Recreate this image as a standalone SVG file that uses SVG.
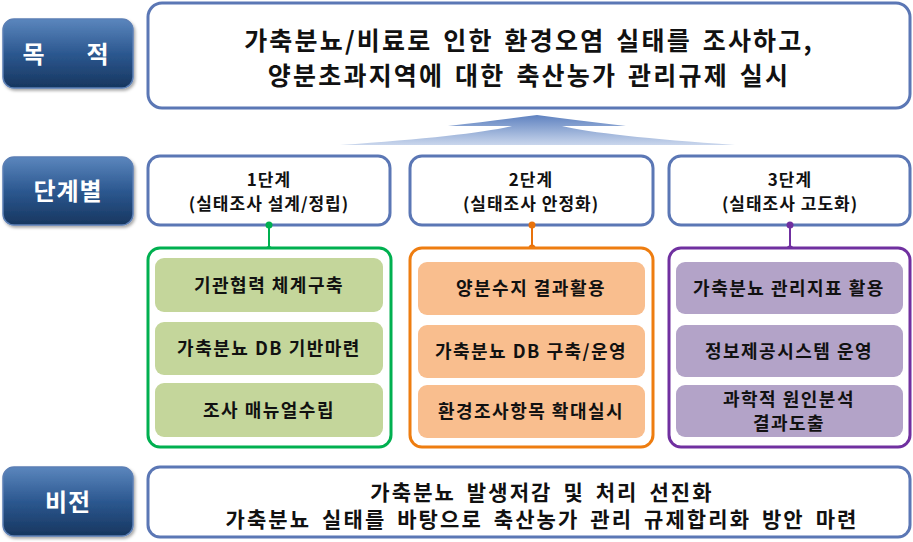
<svg xmlns="http://www.w3.org/2000/svg" width="913" height="542" viewBox="0 0 913 542">
<defs>
<linearGradient id="lbl" x1="0" y1="0" x2="0" y2="1">
<stop offset="0" stop-color="#5b86bd"/>
<stop offset="0.5" stop-color="#2c5890"/>
<stop offset="1" stop-color="#17365f"/>
</linearGradient>
<linearGradient id="arr" x1="0" y1="0" x2="0" y2="1">
<stop offset="0" stop-color="#5f82c0"/>
<stop offset="1" stop-color="#c9d6ec"/>
</linearGradient>
<filter id="sh" x="-10%" y="-10%" width="125%" height="130%">
<feDropShadow dx="1.5" dy="2" stdDeviation="1.5" flood-color="#000" flood-opacity="0.35"/>
</filter>
</defs>
<style>
text{font-family:"Noto Sans CJK KR","Noto Sans",sans-serif;font-weight:bold;text-anchor:middle;fill:#111}
.lbl rect{fill:url(#lbl);stroke:#5b7fb5;stroke-width:1.5}
.lbl text{fill:#fff;font-size:24px;letter-spacing:1px}
.frame{fill:#fff;stroke:#5b77b5;stroke-width:3}
.g{fill:#c4d69b}.o{fill:#f9be8e}.p{fill:#b3a3c8}
.it{font-size:18px;letter-spacing:1.5px}
.st{font-size:17px;letter-spacing:1px}
.top{font-size:25px;letter-spacing:2.2px;word-spacing:3px}
.bot{font-size:21px;letter-spacing:2.1px;word-spacing:4px}
</style>
<rect width="913" height="542" fill="#fff"/>
<g id="lbl-purpose" class="lbl"><rect x="3" y="19" width="130" height="69" rx="11" filter="url(#sh)"/><text x="34" y="63">목</text><text x="98" y="63">적</text></g>
<g id="lbl-stage" class="lbl"><rect x="3" y="157" width="130" height="68" rx="11" filter="url(#sh)"/><text x="68" y="200">단계별</text></g>
<g id="lbl-vision" class="lbl"><rect x="3" y="467" width="130" height="69" rx="11" filter="url(#sh)"/><text x="68" y="511">비전</text></g>
<g id="purpose"><rect class="frame" x="148" y="3" width="762" height="105" rx="14"/>
<text class="top"><tspan x="529" y="50">가축분뇨/비료로 인한 환경오염 실태를 조사하고,</tspan><tspan x="529" y="85">양분초과지역에 대한 축산농가 관리규제 실시</tspan></text></g>
<g id="arrow"><path d="M340 145 Q470 136 512 126 Q470 126 448 126 Q500 120 537 115 Q574 120 626 126 Q604 126 562 126 Q604 136 735 145 Z" fill="url(#arr)"/></g>
<g id="stage1"><rect class="frame" x="148" y="156" width="242" height="69" rx="12"/><text class="st"><tspan x="269" y="186">1단계</tspan><tspan x="269" y="210">(실태조사 설계/정립)</tspan></text></g>
<g id="stage2"><rect class="frame" x="410" y="156" width="243" height="69" rx="12"/><text class="st"><tspan x="531" y="186">2단계</tspan><tspan x="531" y="210">(실태조사 안정화)</tspan></text></g>
<g id="stage3"><rect class="frame" x="669" y="156" width="241" height="69" rx="12"/><text class="st"><tspan x="790" y="186">3단계</tspan><tspan x="790" y="210">(실태조사 고도화)</tspan></text></g>
<g id="connectors">
<line x1="269" y1="225" x2="269" y2="249" stroke="#00b050" stroke-width="2"/><circle cx="269" cy="225" r="3.5" fill="#00b050"/><circle cx="269" cy="249" r="3" fill="#00b050"/>
<line x1="532" y1="225" x2="532" y2="249" stroke="#e8720c" stroke-width="2"/><circle cx="532" cy="225" r="3.5" fill="#e8720c"/><circle cx="532" cy="248" r="3.5" fill="#e8720c"/>
<line x1="790" y1="225" x2="790" y2="249" stroke="#7030a0" stroke-width="2"/><circle cx="790" cy="225" r="3.5" fill="#7030a0"/><circle cx="790" cy="249" r="3.5" fill="#7030a0"/>
</g>
<g id="group1"><rect x="148" y="248" width="243" height="199" rx="12" fill="#fff" stroke="#00b050" stroke-width="3"/>
<rect class="g" x="155" y="258" width="228" height="54" rx="9"/><text class="it" x="269" y="292">기관협력 체계구축</text>
<rect class="g" x="155" y="322" width="228" height="53" rx="9"/><text class="it" x="269" y="355">가축분뇨 DB 기반마련</text>
<rect class="g" x="155" y="383" width="228" height="54" rx="9"/><text class="it" x="269" y="417">조사 매뉴얼수립</text></g>
<g id="group2"><rect x="410" y="248" width="243" height="199" rx="12" fill="#fff" stroke="#ee7d10" stroke-width="3"/>
<rect class="o" x="418" y="262" width="227" height="53" rx="9"/><text class="it" x="531" y="295">양분수지 결과활용</text>
<rect class="o" x="418" y="325" width="227" height="53" rx="9"/><text class="it" x="531" y="358">가축분뇨 DB 구축/운영</text>
<rect class="o" x="418" y="385" width="227" height="53" rx="9"/><text class="it" x="531" y="418">환경조사항목 확대실시</text></g>
<g id="group3"><rect x="669" y="248" width="241" height="199" rx="12" fill="#fff" stroke="#7030a0" stroke-width="3"/>
<rect class="p" x="676" y="262" width="227" height="52" rx="9"/><text class="it" x="789" y="295">가축분뇨 관리지표 활용</text>
<rect class="p" x="676" y="325" width="227" height="52" rx="9"/><text class="it" x="789" y="358">정보제공시스템 운영</text>
<rect class="p" x="676" y="385" width="227" height="52" rx="9"/><text class="it"><tspan x="789" y="406">과학적 원인분석</tspan><tspan x="789" y="430">결과도출</tspan></text></g>
<g id="vision"><rect class="frame" x="148" y="467" width="762" height="70" rx="12"/>
<text class="bot"><tspan x="542" y="500">가축분뇨 발생저감 및 처리 선진화</tspan><tspan x="542" y="527">가축분뇨 실태를 바탕으로 축산농가 관리 규제합리화 방안 마련</tspan></text></g>
</svg>
